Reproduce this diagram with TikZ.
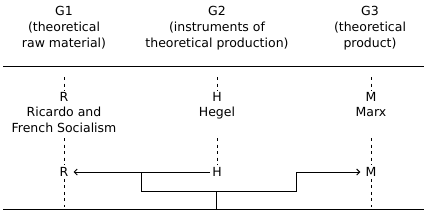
\documentclass[tikz,border=0pt]{standalone}
\usepackage{fontspec}
\setmainfont{DejaVu Sans}
\usetikzlibrary{arrows.meta, positioning}

\begin{document}
\begin{tikzpicture}[
    x=1pt, y=-1pt,
    heading/.style={align=center, font=\fontsize{12.5}{16}\selectfont, inner sep=0pt},
    letter/.style={font=\fontsize{12.5}{16}\selectfont, inner sep=2pt},
    thinker/.style={align=center, font=\fontsize{12.5}{16}\selectfont, inner sep=0pt, anchor=north},
    rule/.style={line width=1pt},
    guide/.style={line width=1pt, dash pattern=on 3pt off 3.5pt},
    flow/.style={line width=1pt},
    arrow/.style={flow, -{Straight Barb[length=3pt, width=6pt]}, shorten >=3pt}
]
\useasboundingbox (0,0) rectangle (427,212);

\node[heading] (g1) at (64,28) {G1\\(theoretical\\raw material)};
\node[heading] (g2) at (217,28) {G2\\(instruments of\\theoretical production)};
\node[heading] (g3) at (370,28) {G3\\(theoretical\\product)};

\coordinate (topleft) at (3,66);
\coordinate (topright) at (424,66);
\coordinate (botleft) at (3,209);
\coordinate (botright) at (424,209);
\draw[rule] (topleft) -- (topright);
\draw[rule] (botleft) -- (botright);

\node[letter] (rtop) at (64,97) {R};
\node[letter] (htop) at (217,97) {H};
\node[letter] (mtop) at (371,97) {M};

\node[thinker] (ricardo) at (64,107) {Ricardo and\\French Socialism};
\node[thinker] (hegel) at (217,107) {Hegel};
\node[thinker] (marx) at (371,107) {Marx};

\node[letter] (rbot) at (64,172) {R};
\node[letter] (hbot) at (217,172) {H};
\node[letter] (mbot) at (371,172) {M};

\coordinate (rstart) at (64,77);
\coordinate (hstart) at (217,77);
\coordinate (mstart) at (371,77);
\coordinate (rmid) at (64,138);
\coordinate (hmid) at (217,138);
\coordinate (mmid) at (371,138);
\coordinate (rend) at (64,207);
\coordinate (mend) at (371,207);

\draw[guide] (rstart) -- (rtop);
\draw[guide] (hstart) -- (htop);
\draw[guide] (mstart) -- (mtop);
\draw[guide] (rmid) -- (rbot);
\draw[guide] (hmid) -- (hbot);
\draw[guide] (mmid) -- (mbot);
\draw[guide] (rbot) -- (rend);
\draw[guide] (mbot) -- (mend);

\coordinate (split) at (141,172);
\coordinate (step) at (296,191);
\coordinate (stem) at (216,191);
\coordinate (base) at (216,209);

\draw[arrow] (hbot.west) -- (rbot.east);
\draw[arrow] (split) |- (step) |- (mbot.west);
\draw[flow] (stem) -- (base);
\end{tikzpicture}
\end{document}
